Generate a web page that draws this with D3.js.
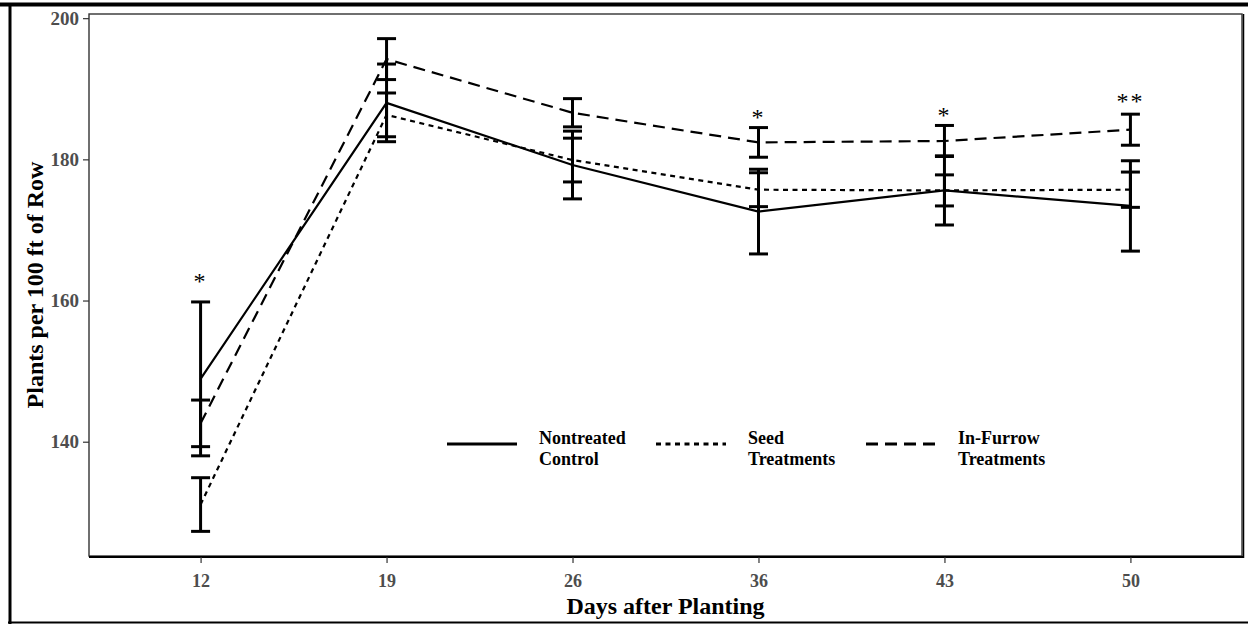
<!DOCTYPE html>
<html>
<head>
<meta charset="utf-8">
<script src="https://cdn.jsdelivr.net/npm/d3@7"></script>
<style>
  html, body { margin: 0; padding: 0; background: #fff; }
  svg { display: block; }
</style>
</head>
<body>
<svg id="chart" width="1248" height="626"></svg>
<script>
// ---- Data ----
const days = ["12", "19", "26", "36", "43", "50"];
const seriesNames = ["Nontreated Control", "Seed Treatments", "In-Furrow Treatments"];
const nontreatedMean = [148.9, 188.0, 179.2, 172.6, 175.6, 173.4];
const nontreatedSE   = [10.9, 5.5, 4.8, 6.0, 4.9, 6.4];
const seedMean       = [131.1, 186.3, 179.9, 175.7, 175.6, 175.7];
const seedSE         = [3.8, 3.1, 3.1, 2.4, 2.2, 2.5];
const inFurrowMean   = [142.6, 194.2, 186.6, 182.4, 182.6, 184.2];
const inFurrowSE     = [3.3, 2.9, 2.0, 2.1, 2.2, 2.2];
const sigLabels      = ["*", "", "", "*", "*", "**"];
const sigY           = [163.3, null, null, 186.6, 186.8, 188.8];
const yTicks         = [140, 160, 180, 200];

const series = [
  { name: "Nontreated\nControl", mean: nontreatedMean, se: nontreatedSE, dash: null },
  { name: "Seed\nTreatments", mean: seedMean, se: seedSE, dash: "5,4.5" },
  { name: "In-Furrow\nTreatments", mean: inFurrowMean, se: inFurrowSE, dash: "12,7" }
];

// ---- Layout ----
const W = 1248, H = 626;
const panel = { left: 89, right: 1242, top: 14, bottom: 556 };
const FONT = "'Liberation Serif', 'Times New Roman', serif";
const svg = d3.select("#chart");

// y domain with ggplot-like 5% expansion of data extent
const lows = [], highs = [];
series.forEach(s => s.mean.forEach((m, i) => { lows.push(m - s.se[i]); highs.push(m + s.se[i]); }));
const yMin = d3.min(lows), yMax = d3.max(highs);
const pad = (yMax - yMin) * 0.05;

const x = d3.scalePoint().domain(days).range([panel.left, panel.right]).padding(0.6);
const y = d3.scaleLinear().domain([yMin - pad, yMax + pad]).range([panel.bottom, panel.top]);

// outer frame
svg.append("rect").attr("x", 0).attr("y", 0).attr("width", W).attr("height", H).attr("fill", "#fff");
svg.append("line").attr("x1", 0).attr("x2", W).attr("y1", 4.5).attr("y2", 4.5).attr("stroke", "#000").attr("stroke-width", 4);
svg.append("line").attr("x1", 10).attr("x2", 10).attr("y1", 3).attr("y2", 624).attr("stroke", "#000").attr("stroke-width", 3);
svg.append("line").attr("x1", 8).attr("x2", W).attr("y1", 622.5).attr("y2", 622.5).attr("stroke", "#000").attr("stroke-width", 2);

// panel border
svg.append("rect")
  .attr("x", panel.left).attr("y", panel.top)
  .attr("width", panel.right - panel.left).attr("height", panel.bottom - panel.top)
  .attr("fill", "none").attr("stroke", "#333").attr("stroke-width", 1.4);
svg.append("line").attr("x1", panel.right + 1.5).attr("x2", panel.right + 1.5)
  .attr("y1", panel.top).attr("y2", panel.bottom + 2).attr("stroke", "#000").attr("stroke-width", 1.5);

// axes
const yAxis = d3.axisLeft(y).tickValues(yTicks).tickSize(6).tickPadding(4).tickFormat(d3.format("d"));
const xAxis = d3.axisBottom(x).tickSize(6).tickPadding(11);

const gy = svg.append("g").attr("transform", `translate(${panel.left},0)`).call(yAxis);
gy.select(".domain").remove();
gy.selectAll(".tick line").attr("stroke", "#333").attr("stroke-width", 1.2);
gy.selectAll(".tick text")
  .attr("fill", "#4d4d4d").attr("font-family", FONT)
  .attr("font-weight", "bold").attr("font-size", 19);

const gx = svg.append("g").attr("transform", `translate(0,${panel.bottom + 1})`).call(xAxis);
gx.select(".domain").attr("stroke", "#000").attr("stroke-width", 2)
  .attr("d", `M${panel.left},0H${panel.right + 2}`);
gx.selectAll(".tick line").attr("stroke", "#333").attr("stroke-width", 1.2);
gx.selectAll(".tick text")
  .attr("fill", "#4d4d4d").attr("font-family", FONT)
  .attr("font-weight", "bold").attr("font-size", 18);

// axis titles
svg.append("text")
  .attr("x", (panel.left + panel.right) / 2).attr("y", 614)
  .attr("text-anchor", "middle")
  .attr("font-family", FONT)
  .attr("font-weight", "bold").attr("font-size", 24)
  .text("Days after Planting");
svg.append("text")
  .attr("transform", `translate(43,${(panel.top + panel.bottom) / 2}) rotate(-90)`)
  .attr("text-anchor", "middle")
  .attr("font-family", FONT)
  .attr("font-weight", "bold").attr("font-size", 24)
  .text("Plants per 100 ft of Row");

// lines
const line = d3.line().x((d, i) => x(days[i])).y(d => y(d));
series.forEach(s => {
  svg.append("path")
    .datum(s.mean)
    .attr("d", line)
    .attr("fill", "none")
    .attr("stroke", "#000")
    .attr("stroke-width", 2.2)
    .attr("stroke-dasharray", s.dash);
});

// error bars
const capHalf = 9.5;
series.forEach(s => {
  const g = svg.append("g");
  s.mean.forEach((m, i) => {
    const cx = x(days[i]);
    const top = y(m + s.se[i]), bot = y(m - s.se[i]);
    g.append("line").attr("x1", cx).attr("x2", cx).attr("y1", top).attr("y2", bot)
      .attr("stroke", "#000").attr("stroke-width", 3);
    [top, bot].forEach(yy => {
      g.append("line").attr("x1", cx - capHalf).attr("x2", cx + capHalf).attr("y1", yy).attr("y2", yy)
        .attr("stroke", "#000").attr("stroke-width", 3);
    });
  });
});

// significance markers
days.forEach((d, i) => {
  if (!sigLabels[i]) return;
  svg.append("text")
    .attr("x", x(d)).attr("y", y(sigY[i]))
    .attr("dy", "0.5em")
    .attr("text-anchor", "middle")
    .attr("font-family", FONT)
    .attr("font-size", 24)
    .attr("letter-spacing", 2)
    .text(sigLabels[i]);
});

// legend
const legendX = [447, 656, 866];
const legendY = 444;
series.forEach((s, i) => {
  const lx = legendX[i];
  svg.append("line").attr("x1", lx).attr("x2", lx + 70).attr("y1", legendY).attr("y2", legendY)
    .attr("stroke", "#000").attr("stroke-width", 3).attr("stroke-dasharray", s.dash);
  const t = svg.append("text")
    .attr("x", lx + 92).attr("y", legendY)
    .attr("font-family", FONT)
    .attr("font-weight", "bold").attr("font-size", 18);
  s.name.split("\n").forEach((part, k) => {
    t.append("tspan").attr("x", lx + 92).attr("dy", k === 0 ? 0 : 21).text(part);
  });
});
</script>
</body>
</html>
